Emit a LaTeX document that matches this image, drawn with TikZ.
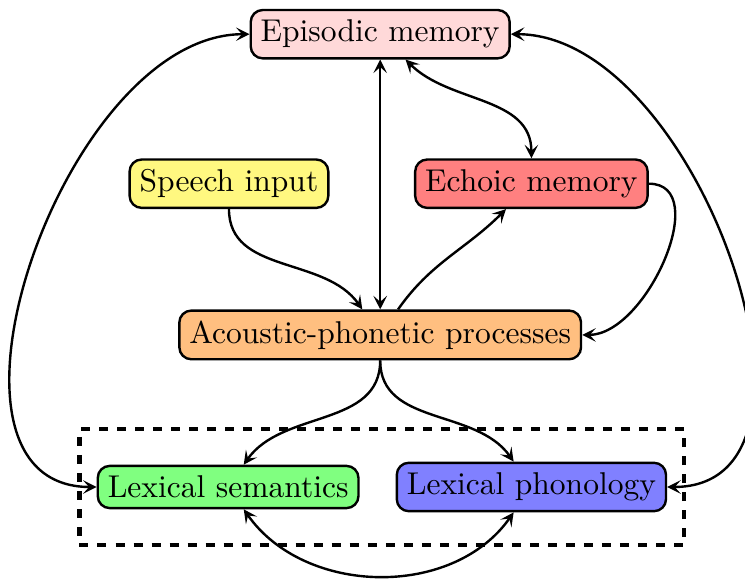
\documentclass[tikz,border=0pt]{standalone}
\usepackage{amsmath, amssymb}
\usetikzlibrary{fit,arrows.meta}

\begin{document}
\begin{tikzpicture}[box/.style={draw,thick,rounded corners,font=\fontsize{10.5}{12.6}\selectfont}, link/.style={thick,->}, >={Stealth[length=4.5pt,width=4.5pt,inset=2pt]}]
	\useasboundingbox (-4.45,-2.88) rectangle (4.27,3.92);
	\node[box,fill=red!15] (episodic) at (0,3.52){Episodic memory};
	\node[box,fill=yellow!50] (speech) at (-1.77,1.77){Speech input};
	\node[box,fill=red!50] (echoic) at (1.77,1.77){Echoic memory};
	\node[box,fill=orange!50] (acoustic) at (0,0){Acoustic-phonetic processes};
	\node[box,fill=green!50] (semantics) at (-1.78,-1.78){Lexical semantics};
	\node[box,fill=blue!50] (phonology) at (1.77,-1.78){Lexical phonology};
	\node[draw,line width=1.4pt,dashed,fit=(semantics)(phonology),inner xsep=0.2cm,inner ysep=0.38cm] (lexicon) {};
	\draw[link,<->] (episodic) -- (acoustic);
	\draw[link,<->] (episodic) to[out=-45,in=90] (echoic);
	\draw[link,<->] (episodic) to[out=180,in=180] (semantics);
	\draw[link,<->] (episodic) to[out=0,in=0] (phonology);
	\draw[link] (speech) to[out=-90,in=125] (acoustic);
	\draw[link] (acoustic) to[out=55,in=-135] (echoic);
	\draw[link] (echoic) to[out=0,in=0] (acoustic);
	\draw[link] (acoustic) to[out=-90,in=55] (semantics);
	\draw[link] (acoustic) to[out=-90,in=125] (phonology);
	\draw[link,<->] (semantics) to[out=-55,in=-125] (phonology);
	\end{tikzpicture}
\end{document}
